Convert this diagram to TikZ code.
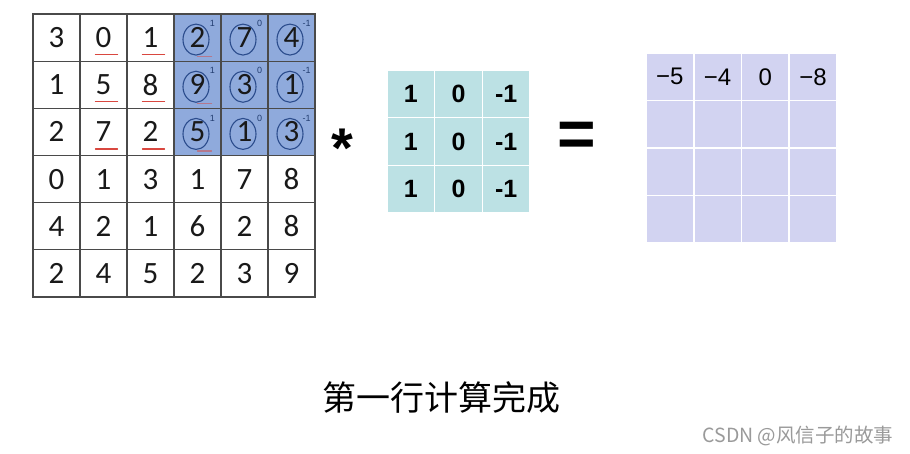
\documentclass[tikz,border=0pt]{standalone}
\usepackage{fontspec}
\usetikzlibrary{calc}
\newfontfamily\carlito{Carlito}
\newfontfamily\arialf{Liberation Sans}
\newfontfamily\cjk{Noto Sans CJK SC}
\definecolor{hl}{HTML}{8FAADC}
\definecolor{kern}{HTML}{BCE1E4}
\definecolor{outc}{HTML}{D2D3F1}
\definecolor{gridl}{HTML}{4A4A4A}
\definecolor{circ}{HTML}{2B4C8C}
\definecolor{redu}{HTML}{D9473F}
\definecolor{wm}{HTML}{9A9A9A}
\begin{document}
\begin{tikzpicture}[x=1pt,y=-1pt,
  gcell/.style={draw=gridl, line width=1.2pt, minimum width=47pt, minimum height=47.17pt, inner sep=0pt, text=black!90, font=\carlito\fontsize{31}{31}\selectfont},
  kcell/.style={fill=kern, draw=white, line width=1.6pt, minimum size=47.67pt, inner sep=0pt, font=\arialf\bfseries\fontsize{25}{25}\selectfont},
  ocell/.style={fill=outc, draw=white, line width=1.6pt, minimum size=47.75pt, inner sep=0pt},
  otext/.style={font=\arialf\fontsize{24}{24}\selectfont},
  ring/.style={draw=circ, line width=1.1pt},
  supl/.style={font=\arialf\fontsize{9}{9}\selectfont, text=circ!80!black, inner sep=0pt},
  uline/.style={draw=redu, line width=1.2pt, line cap=round},
  opsym/.style={inner sep=0pt}
]
\fill[white] (0,0) rectangle (910,454);
\useasboundingbox (0,0) rectangle (910,454);
% highlight
\fill[hl] (173,14) rectangle (315,155.5);
% input grid
\foreach \row [count=\r] in {{3,0,1,2,7,4},{1,5,8,9,3,1},{2,7,2,5,1,3},{0,1,3,1,7,8},{4,2,1,6,2,8},{2,4,5,2,3,9}} {
  \foreach \v [count=\c] in \row {
    \node[gcell] (g-\r-\c) at ({33+47*(\c-0.5)},{14+47.17*(\r-0.5)}) {\v};
  }
}
% circles and superscripts
\foreach \r in {1,2,3} {
  \foreach \c/\k in {4/1,5/0,6/-1} {
    \draw[ring] ($(g-\r-\c)+(-1.5,2)$) ellipse (13pt and 15.5pt);
    \node[supl] (s-\r-\c) at ($(g-\r-\c)+(15,-14)$) {\k};
  }
  \foreach \c in {2,3} {
    \draw[uline] ($(g-\r-\c)+(-8,17)$) -- ($(g-\r-\c)+(14,17)$);
  }
  \draw[uline, opacity=0.5] ($(g-\r-4)+(0,19)$) -- ($(g-\r-4)+(14,19)$);
}
% operator
\node[opsym, font=\arialf\bfseries\fontsize{56}{56}\selectfont] (star) at (342,148) {*};
% kernel
\foreach \c/\k in {1/1,2/0,3/-1} {
  \foreach \r in {1,2,3} {
    \node[kcell] (k-\r-\c) at ({387+47.67*(\c-0.5)},{70+47.67*(\r-0.5)}) {\k};
  }
}
\node[opsym, font=\arialf\bfseries\fontsize{66}{66}\selectfont] (eq) at (576.5,139) {=};
% output
\foreach \r in {1,2,3,4} {
  \foreach \c in {1,2,3,4} {
    \node[ocell] (o-\r-\c) at ({646+47.75*(\c-0.5)},{53+47.5*(\r-0.5)}) {};
  }
}
\node[otext] (v1) at (o-1-1) {−5};
\node[otext] (v2) at (o-1-2) {−4};
\node[otext] (v3) at (o-1-3) {0};
\node[otext] (v4) at (o-1-4) {−8};
% captions
\node[font=\cjk\fontsize{34}{34}\selectfont, inner sep=0pt] (title) at (441.5,398) {第一行计算完成};
\node[font=\cjk\fontsize{19.5}{19.5}\selectfont, text=wm, inner sep=0pt] (wmark) at (798,436) {CSDN @风信子的故事};
\end{tikzpicture}
\end{document}
